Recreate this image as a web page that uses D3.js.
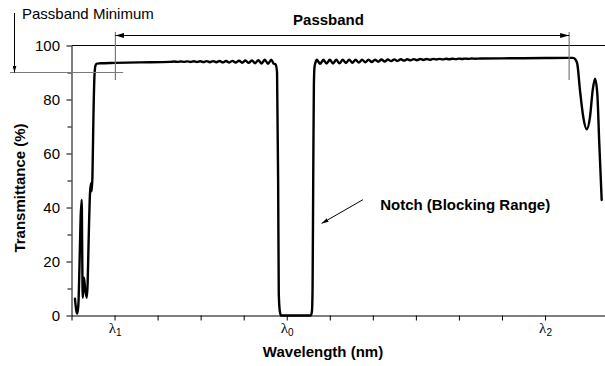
<!DOCTYPE html>
<html>
<head>
<meta charset="utf-8">
<script src="https://cdn.jsdelivr.net/npm/d3@7"></script>
<style>
  html, body { margin: 0; padding: 0; background: #fff; }
  svg { display: block; }
  text { font-family: "Liberation Sans", Arial, sans-serif; fill: #000; }
</style>
</head>
<body>
<svg id="chart" width="605" height="366"></svg>
<script>
// Notch filter transmission curve (relative wavelength units, one per axis tick)
const wavelength = [
  0.081, 0.105, 0.134, 0.160, 0.185, 0.212, 0.237, 0.248, 0.260, 0.275, 0.290, 0.315, 0.353,
  0.375, 0.394, 0.429, 0.453, 0.467, 0.487, 0.511, 0.534, 0.557, 0.592, 0.662, 1.010, 1.591, 2.288,
  2.39, 2.465, 2.54, 2.615, 2.69, 2.765, 2.84, 2.915, 2.99, 3.065, 3.14, 3.215, 3.29, 3.365,
  3.44, 3.515, 3.59, 3.665, 3.74, 3.815, 3.89, 3.965, 4.04, 4.115, 4.19, 4.265, 4.34, 4.415,
  4.49, 4.565, 4.64, 4.69, 4.74, 4.775, 4.80, 4.815, 4.84, 4.87,
  5.56, 5.585, 5.60, 5.615, 5.63, 5.645, 5.665,
  5.70, 5.775, 5.85, 5.925, 6.00, 6.075, 6.15, 6.225, 6.30, 6.375, 6.45, 6.525, 6.60, 6.675,
  6.75, 6.825, 6.90, 6.975, 7.05, 7.125, 7.20, 7.275, 7.35, 7.425, 7.50, 7.575, 7.65, 7.725,
  7.80, 7.875, 7.95, 8.025, 8.10, 8.175, 8.25, 8.325, 8.40, 8.475, 8.55, 8.625, 8.70, 8.775,
  8.85, 8.925, 9.00, 9.075, 9.15, 9.225, 9.30, 9.375, 9.50, 10.0, 10.5, 11.0, 11.5, 11.65,
  11.707, 11.749, 11.812, 11.888, 11.967, 12.044, 12.107, 12.161, 12.214, 12.260, 12.316
];
const transmittance = [
  6.2, 2.5, 0.7, 4, 18, 36, 42.8, 25, 6.6, 10, 14, 10, 6.6,
  12, 25, 45, 49, 46, 52, 75, 89, 92.6, 93.3, 93.4, 93.55, 93.75, 93.95,
  94.05, 93.95, 94.10, 93.92, 94.12, 93.90, 94.15, 93.88, 94.17, 93.85, 94.20, 93.82, 94.22, 93.80,
  94.25, 93.76, 94.28, 93.72, 94.32, 93.68, 94.36, 93.62, 94.42, 93.55, 94.50, 93.45, 94.60, 93.35,
  94.70, 93.25, 94.75, 93.4, 93.0, 90, 50, 8, 1.5, 0,
  0, 1.5, 10, 50, 85, 92, 93.5,
  94.7, 93.2, 94.7, 93.3, 94.7, 93.35, 94.7, 93.4, 94.7, 93.5, 94.7, 93.6, 94.7, 93.7,
  94.7, 93.8, 94.75, 93.9, 94.75, 94.0, 94.8, 94.1, 94.8, 94.2, 94.85, 94.3, 94.9, 94.4,
  94.9, 94.5, 94.95, 94.55, 95.0, 94.65, 95.0, 94.7, 95.05, 94.8, 95.05, 94.85, 95.1, 94.9,
  95.1, 94.95, 95.15, 95.0, 95.15, 95.05, 95.2, 95.1, 95.2, 95.25, 95.3, 95.35, 95.4, 95.4,
  94.8, 93.2, 83.4, 73.5, 69, 73.5, 83.4, 87.7, 82.2, 63.8, 42.8
];

const xTicks = [0, 1, 2, 3, 4, 5, 6, 7, 8, 9, 10, 11];
const xTickSubscripts = ["", "1", "", "", "", "0", "", "", "", "", "", "2"];
const yTicksMajor = [0, 20, 40, 60, 80, 100];
const yTicksMinor = [10, 30, 50, 70, 90];

const passbandEdges = [1.02, 11.56];
const passbandMinimum = 90;
const notchArrow = { from: [6.77, 42.9], to: [5.81, 34.1], label: [7.17, 38.9] };

const svg = d3.select("#chart");
const plot = { left: 71.5, right: 605, top: 45.5, bottom: 315.5 };

const x = d3.scaleLinear().domain([0, 12.393]).range([plot.left, plot.right]);
const y = d3.scaleLinear().domain([0, 100]).range([plot.bottom, plot.top]);

// arrowhead markers
const defs = svg.append("defs");
function arrowMarker(id, w, h) {
  defs.append("marker")
    .attr("id", id)
    .attr("viewBox", `0 0 ${w} ${h}`)
    .attr("refX", w).attr("refY", h / 2)
    .attr("markerWidth", w).attr("markerHeight", h)
    .attr("markerUnits", "userSpaceOnUse")
    .attr("orient", "auto-start-reverse")
    .append("path")
    .attr("d", `M0,0L${w},${h / 2}L0,${h}Z`)
    .attr("fill", "#000");
}
arrowMarker("arrow", 9, 5);
arrowMarker("arrowSmall", 7, 4);

// 100% reference line across the plot
svg.append("line")
  .attr("x1", plot.left).attr("x2", plot.right)
  .attr("y1", y(100)).attr("y2", y(100))
  .attr("stroke", "#000").attr("stroke-width", 1);

// y axis: minor then major ticks
svg.append("g")
  .attr("transform", `translate(${plot.left},0)`)
  .call(d3.axisLeft(y).tickValues(yTicksMinor).tickSize(4).tickSizeOuter(0).tickFormat(""))
  .call(g => g.select(".domain").remove())
  .call(g => g.selectAll("line").attr("stroke", "#000"));

svg.append("g")
  .attr("transform", `translate(${plot.left},0)`)
  .call(d3.axisLeft(y).tickValues(yTicksMajor).tickSize(5).tickSizeOuter(0).tickPadding(6.5))
  .call(g => g.select(".domain").attr("stroke", "#000"))
  .call(g => g.selectAll("line").attr("stroke", "#000"))
  .call(g => g.selectAll("text")
    .attr("font-family", "Liberation Sans, Arial, sans-serif")
    .attr("font-size", 15).attr("fill", "#000"));

// x axis with λ labels
const xAxis = svg.append("g")
  .attr("transform", `translate(0,${plot.bottom})`)
  .call(d3.axisBottom(x).tickValues(xTicks).tickSize(5).tickSizeOuter(0).tickFormat(""))
  .call(g => g.select(".domain").attr("stroke", "#000"))
  .call(g => g.selectAll("line").attr("stroke", "#000"));

xAxis.selectAll(".tick").each(function (d, i) {
  const sub = xTickSubscripts[i];
  if (!sub) return;
  const t = d3.select(this).select("text")
    .attr("y", 17).attr("dy", null)
    .attr("text-anchor", "middle")
    .attr("fill", "#000");
  t.append("tspan")
    .attr("font-family", "Liberation Serif, Times New Roman, serif")
    .attr("font-size", 15)
    .text("λ");
  t.append("tspan")
    .attr("font-family", "Liberation Sans, Arial, sans-serif")
    .attr("font-size", 10)
    .attr("dy", 3)
    .text(sub);
});

// transmission curve
const line = d3.line()
  .x((d, i) => x(wavelength[i]))
  .y((d, i) => y(transmittance[i]))
  .curve(d3.curveMonotoneX);

svg.append("path")
  .datum(transmittance)
  .attr("d", line)
  .attr("fill", "none")
  .attr("stroke", "#000")
  .attr("stroke-width", 2.4)
  .attr("stroke-linejoin", "round")
  .attr("stroke-linecap", "round");

// passband minimum marker
svg.append("line")
  .attr("x1", 10).attr("x2", x(1.2))
  .attr("y1", y(passbandMinimum)).attr("y2", y(passbandMinimum))
  .attr("stroke", "#7a7a7a").attr("stroke-width", 1.2);
svg.append("line")
  .attr("x1", 14.5).attr("x2", 14.5)
  .attr("y1", 13).attr("y2", y(passbandMinimum))
  .attr("stroke", "#000").attr("stroke-width", 1)
  .attr("marker-end", "url(#arrowSmall)");
svg.append("text")
  .attr("x", 22).attr("y", 19)
  .attr("font-size", 15)
  .text("Passband Minimum");

// passband edges and span arrow
passbandEdges.forEach(e => {
  svg.append("line")
    .attr("x1", x(e)).attr("x2", x(e))
    .attr("y1", 32).attr("y2", 80)
    .attr("stroke", "#7a7a7a").attr("stroke-width", 1.2);
});
svg.append("line")
  .attr("x1", x(passbandEdges[0])).attr("x2", x(passbandEdges[1]))
  .attr("y1", 35.5).attr("y2", 35.5)
  .attr("stroke", "#000").attr("stroke-width", 1)
  .attr("marker-start", "url(#arrow)")
  .attr("marker-end", "url(#arrow)");
svg.append("text")
  .attr("x", 328.5).attr("y", 25)
  .attr("text-anchor", "middle")
  .attr("font-size", 15).attr("font-weight", "bold")
  .text("Passband");

// notch annotation
svg.append("line")
  .attr("x1", x(notchArrow.from[0])).attr("y1", y(notchArrow.from[1]))
  .attr("x2", x(notchArrow.to[0])).attr("y2", y(notchArrow.to[1]))
  .attr("stroke", "#000").attr("stroke-width", 1)
  .attr("marker-end", "url(#arrowSmall)");
svg.append("text")
  .attr("x", x(notchArrow.label[0])).attr("y", y(notchArrow.label[1]))
  .attr("font-size", 15).attr("font-weight", "bold")
  .text("Notch (Blocking Range)");

// axis titles
svg.append("text")
  .attr("x", 323).attr("y", 357)
  .attr("text-anchor", "middle")
  .attr("font-size", 15).attr("font-weight", "bold")
  .text("Wavelength (nm)");
svg.append("text")
  .attr("transform", "translate(24.5,188) rotate(-90)")
  .attr("text-anchor", "middle")
  .attr("font-size", 15).attr("font-weight", "bold")
  .text("Transmittance (%)");
</script>
</body>
</html>
